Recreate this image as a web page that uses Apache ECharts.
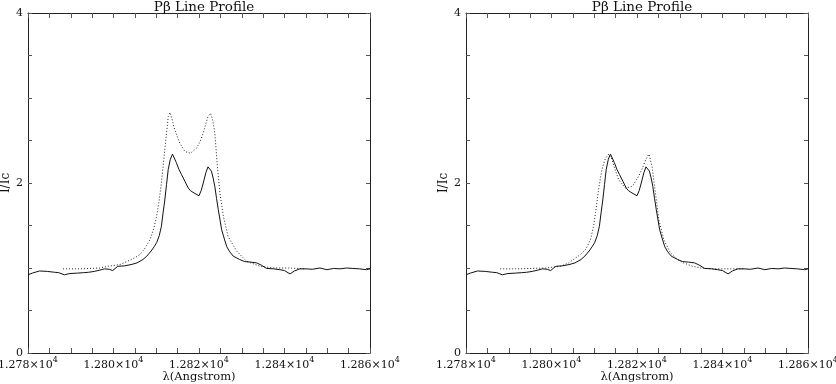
<!DOCTYPE html>
<html lang="en">
<head>
<meta charset="UTF-8">
<title>P-beta line profile</title>
<script src="https://cdn.jsdelivr.net/npm/echarts@6/dist/echarts.min.js"></script>
<style>
  html, body { margin: 0; padding: 0; background: #fff; }
  #main { width: 836px; height: 384px; }
</style>
</head>
<body>
<div id="main"></div>
<script type="text/javascript">
// observed profile (same in both panels)
var obsLambda = [12780.0, 12781.0, 12782.7, 12784.5, 12786.2, 12787.2, 12788.5, 12789.8, 12791.6, 12793.0,
  12794.2, 12795.5, 12796.8, 12797.9, 12799.0, 12799.8, 12801.0, 12802.5, 12804.1, 12805.5,
  12806.9, 12807.8, 12808.8, 12809.5, 12810.1, 12810.7, 12811.2, 12811.6, 12812.0, 12812.4,
  12812.8, 12813.3, 12813.8, 12814.2, 12814.7, 12815.3, 12815.9, 12816.7, 12817.5, 12818.0,
  12818.6, 12819.3, 12820.0, 12820.5, 12821.0, 12821.6, 12822.1, 12822.5, 12822.9, 12823.3,
  12823.7, 12824.1, 12824.5, 12825.3, 12826.0, 12826.5, 12827.2, 12828.0, 12829.5, 12830.7,
  12832.0, 12833.5, 12834.7, 12835.8, 12837.5, 12838.9, 12840.0, 12841.3, 12842.3, 12843.6,
  12845.0, 12846.5, 12848.3, 12849.9, 12851.5, 12853.0, 12854.5, 12856.0, 12857.5, 12859.2, 12860.0];
var obsFlux = [0.92, 0.94, 0.965, 0.96, 0.95, 0.945, 0.92, 0.935, 0.94, 0.945,
  0.95, 0.96, 0.975, 0.99, 0.985, 0.97, 1.02, 1.025, 1.04, 1.06,
  1.10, 1.14, 1.20, 1.25, 1.30, 1.38, 1.49, 1.65, 1.80, 1.98,
  2.16, 2.28, 2.34, 2.32, 2.24, 2.16, 2.10, 2.02, 1.94, 1.91,
  1.89, 1.87, 1.85, 1.91, 2.00, 2.12, 2.19, 2.17, 2.14, 2.06,
  1.96, 1.82, 1.69, 1.45, 1.33, 1.25, 1.19, 1.14, 1.10, 1.075,
  1.07, 1.06, 1.03, 0.995, 0.99, 0.98, 0.97, 0.93, 0.965, 0.99,
  0.99, 0.985, 1.0, 0.98, 0.995, 0.99, 1.0, 0.995, 0.99, 0.98, 0.99];

// model profile, left panel
var modelALambda = [12788.2, 12792.0, 12796.8, 12798.7, 12801.5, 12803.3, 12805.0, 12806.2, 12807.2, 12808.5,
  12809.4, 12810.1, 12810.7, 12811.2, 12812.0, 12812.8, 12813.2, 12813.7, 12814.3, 12815.5,
  12816.7, 12818.0, 12819.4, 12820.3, 12821.0, 12821.6, 12822.1, 12822.7, 12823.2, 12823.7,
  12824.3, 12824.9, 12825.7, 12826.8, 12828.8, 12831.1, 12834.3, 12837.4, 12841.0, 12845.0];
var modelAFlux = [0.99, 0.99, 1.0, 1.02, 1.04, 1.08, 1.12, 1.16, 1.22, 1.33,
  1.46, 1.61, 1.80, 2.00, 2.39, 2.78, 2.83, 2.75, 2.63, 2.47,
  2.37, 2.35, 2.41, 2.49, 2.59, 2.70, 2.78, 2.82, 2.74, 2.59,
  2.20, 1.88, 1.61, 1.37, 1.20, 1.08, 1.02, 1.0, 1.0, 0.99];

// model profile, right panel
var modelBLambda = [12788.0, 12792.0, 12798.6, 12802.1, 12804.0, 12806.8, 12808.0, 12809.1, 12809.8, 12810.3,
  12811.0, 12811.8, 12812.6, 12813.4, 12814.0, 12814.6, 12815.7, 12817.3, 12818.9, 12820.4,
  12821.3, 12822.0, 12822.8, 12823.5, 12824.3, 12825.1, 12826.3, 12827.8, 12829.5, 12830.9,
  12833.0, 12834.9, 12838.0, 12845.0];
var modelBFlux = [0.99, 0.99, 1.0, 1.02, 1.06, 1.16, 1.22, 1.33, 1.48, 1.65,
  1.92, 2.16, 2.29, 2.34, 2.30, 2.20, 2.04, 1.94, 1.96, 2.08,
  2.18, 2.27, 2.34, 2.20, 1.89, 1.57, 1.33, 1.18, 1.10, 1.06,
  1.02, 1.0, 0.99, 0.99];

var panelTitle = 'P\u03b2 Line Profile';
var xName = '\u03bb(Angstrom)';
var yName = 'I/Ic';

function pairs(xs, ys) {
  return xs.map(function (x, i) { return [x, ys[i]]; });
}

var font = 'DejaVu Serif';
var ink = '#111';

function xAxisFor(g, top) {
  return {
    type: 'value', gridIndex: g, position: top ? 'top' : 'bottom',
    min: 12780, max: 12860, interval: 20,
    axisLine: { show: true, onZero: false, lineStyle: { color: '#222', width: 1 } },
    axisTick: { show: true, inside: true, length: 5, lineStyle: { color: '#555' } },
    minorTick: { show: true, splitNumber: 4, length: 5, lineStyle: { color: '#555' } },
    splitLine: { show: false },
    axisLabel: top ? { show: false } : {
      show: true, margin: 3, showMinLabel: true, showMaxLabel: true, hideOverlap: false,
      formatter: function (v) { return '{b|' + (v / 10000).toFixed(3) + '\u00d710}{s|4}'; },
      rich: {
        b: { fontFamily: font, fontSize: 11, color: ink, verticalAlign: 'bottom' },
        s: { fontFamily: font, fontSize: 8, color: ink, verticalAlign: 'bottom', padding: [0, 0, 7, 0] }
      }
    },
    name: top ? '' : xName, nameLocation: 'middle', nameGap: 18, nameMoveOverlap: false,
    nameTextStyle: { fontFamily: font, fontSize: 11.5, color: ink }
  };
}

function yAxisFor(g, right) {
  return {
    type: 'value', gridIndex: g, position: right ? 'right' : 'left',
    min: 0, max: 4, interval: 2,
    axisLine: { show: true, onZero: false, lineStyle: { color: '#222', width: 1 } },
    axisTick: { show: true, inside: true, length: 4, lineStyle: { color: '#555' } },
    minorTick: { show: true, splitNumber: 4, length: 4, lineStyle: { color: '#555' } },
    splitLine: { show: false },
    axisLabel: right ? { show: false } : {
      show: true, margin: 5, fontFamily: font, fontSize: 11, color: ink
    },
    name: right ? '' : yName, nameLocation: 'middle', nameGap: 16, nameRotate: 90,
    nameTextStyle: { fontFamily: font, fontSize: 12, color: ink }
  };
}

var chart = echarts.init(document.getElementById('main'), null, { renderer: 'canvas' });

var option = {
  backgroundColor: '#fff',
  animation: false,
  title: [
    { text: panelTitle, left: 199, top: -5, textAlign: 'center',
      textStyle: { fontFamily: font, fontSize: 13.5, fontWeight: 'normal', color: ink } },
    { text: panelTitle, left: 637, top: -5, textAlign: 'center',
      textStyle: { fontFamily: font, fontSize: 13.5, fontWeight: 'normal', color: ink } }
  ],
  grid: [
    { left: 28, top: 13, width: 342, height: 340, outerBoundsMode: 'none', containLabel: false },
    { left: 466, top: 13, width: 342, height: 340, outerBoundsMode: 'none', containLabel: false }
  ],
  xAxis: [xAxisFor(0, false), xAxisFor(0, true), xAxisFor(1, false), xAxisFor(1, true)],
  yAxis: [yAxisFor(0, false), yAxisFor(0, true), yAxisFor(1, false), yAxisFor(1, true)],
  series: [
    { type: 'line', xAxisIndex: 0, yAxisIndex: 0, data: pairs(modelALambda, modelAFlux),
      showSymbol: false, silent: true, lineStyle: { color: '#222', width: 1, type: [1, 2] } },
    { type: 'line', xAxisIndex: 0, yAxisIndex: 0, data: pairs(obsLambda, obsFlux),
      showSymbol: false, silent: true, lineStyle: { color: '#111', width: 1 } },
    { type: 'line', xAxisIndex: 2, yAxisIndex: 2, data: pairs(modelBLambda, modelBFlux),
      showSymbol: false, silent: true, lineStyle: { color: '#222', width: 1, type: [1, 2] } },
    { type: 'line', xAxisIndex: 2, yAxisIndex: 2, data: pairs(obsLambda, obsFlux),
      showSymbol: false, silent: true, lineStyle: { color: '#111', width: 1 } }
  ]
};

chart.setOption(option);
</script>
</body>
</html>
